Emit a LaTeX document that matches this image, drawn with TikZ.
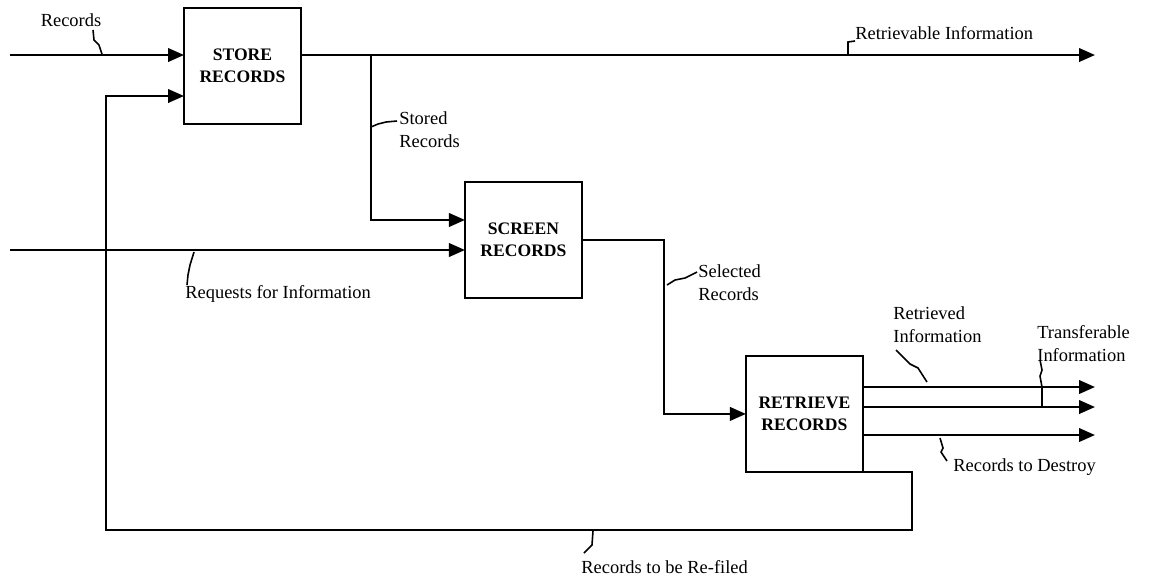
\documentclass[tikz,border=0pt]{standalone}
\usepackage{fontspec}
\setmainfont{Liberation Serif}
\usetikzlibrary{arrows.meta, positioning, calc}

\begin{document}
\begin{tikzpicture}[
    x=0.02cm, y=-0.02cm,
    box/.style={rectangle, draw, line width=1.2pt, minimum width=2.34cm, minimum height=2.32cm, inner sep=0pt, outer sep=0pt, align=center, font=\fontsize{10}{12.5}\selectfont\bfseries},
    flow/.style={-{Triangle[length=3.2mm, width=2.7mm]}, line width=1.3pt},
    wire/.style={line width=1.3pt},
    lbl/.style={font=\fontsize{10.5}{13}\selectfont, inner sep=0pt, align=left},
    squig/.style={line width=0.9pt}
]
\useasboundingbox (0,0) rectangle (1150,583);

% Three activities
\node[box] (store) at (242.5,66) {STORE\\RECORDS};
\node[box, below right=1.16cm and 3.28cm of store] (screen) {SCREEN\\RECORDS};
\node[box, below right=1.16cm and 3.28cm of screen] (retrieve) {RETRIEVE\\RECORDS};

% Free ends
\coordinate (recin) at (10,55);
\coordinate (retrout) at (1095,55);
\coordinate (branch) at (371,55);
\coordinate (reqin) at (10,250);
\coordinate (out1) at (1095,387);
\coordinate (out2) at (1095,407);
\coordinate (out3) at (1095,435);
\coordinate (tbar) at (1042,387);
\coordinate (fb1) at (912,0);
\coordinate (fb2) at (106,530);

% Flows
\draw[flow] (recin) -- (recin -| store.west);
\draw[flow] (store.east |- retrout) -- (retrout);
\draw[flow] (branch) |- ($(screen.west)+(0,0.4cm)$);
\draw[flow] (reqin) -- (reqin -| screen.west);
\draw[flow] (screen.east) -| ($(screen.east)!0.5!(retrieve.west)$) |- (retrieve.west);
\foreach \o in {out1,out2,out3}
    \draw[flow] (\o -| retrieve.east) -- (\o);
\draw[wire] (tbar) -- (tbar |- out2);
\draw[flow] (retrieve.south east) -- (retrieve.south east -| fb1) |- (fb2) |- ($(store.west)+(0,-0.6cm)$);

% Labels
\node[lbl] (reclbl) at (71,20) {Records};
\node[lbl, anchor=west] (retrvlbl) at (855,33) {Retrievable Information};
\node[lbl, anchor=west] (storedlbl) at (399,130) {Stored\\Records};
\node[lbl, anchor=west] (reqlbl) at (185,294) {Requests for Information};
\node[lbl, anchor=west] (sellbl) at (698,283) {Selected\\Records};
\node[lbl, anchor=west] (retdlbl) at (893,325) {Retrieved\\Information};
\node[lbl, anchor=west] (translbl) at (1037,344) {Transferable\\Information};
\node[lbl, anchor=west] (destlbl) at (953,467) {Records to Destroy};
\node[lbl, anchor=west] (refilelbl) at (581,567) {Records to be Re-filed};

% Squiggles
\draw[squig] (102,54) -- (99,45) -- (94,40) -- (93,30);
\draw[squig] (848,54) -- (848,42) -- (855,41);
\draw[squig] (371,127) -- (378,124) -- (386,122) -- (397,121);
\draw[squig] (194,252) -- (190,265) -- (188,275) -- (187,285);
\draw[squig] (667,285) -- (675,280) -- (685,278) -- (697,272);
\draw[squig] (927,382) -- (918,368) -- (910,364) -- (896,350);
\draw[squig] (tbar) -- (1040,376) -- (1042,370) -- (1040,360);
\draw[squig] (940,438) -- (943,448) -- (941,452) -- (947,461);
\draw[squig] (593,531) -- (592,545) -- (584,553);

\end{tikzpicture}
\end{document}
